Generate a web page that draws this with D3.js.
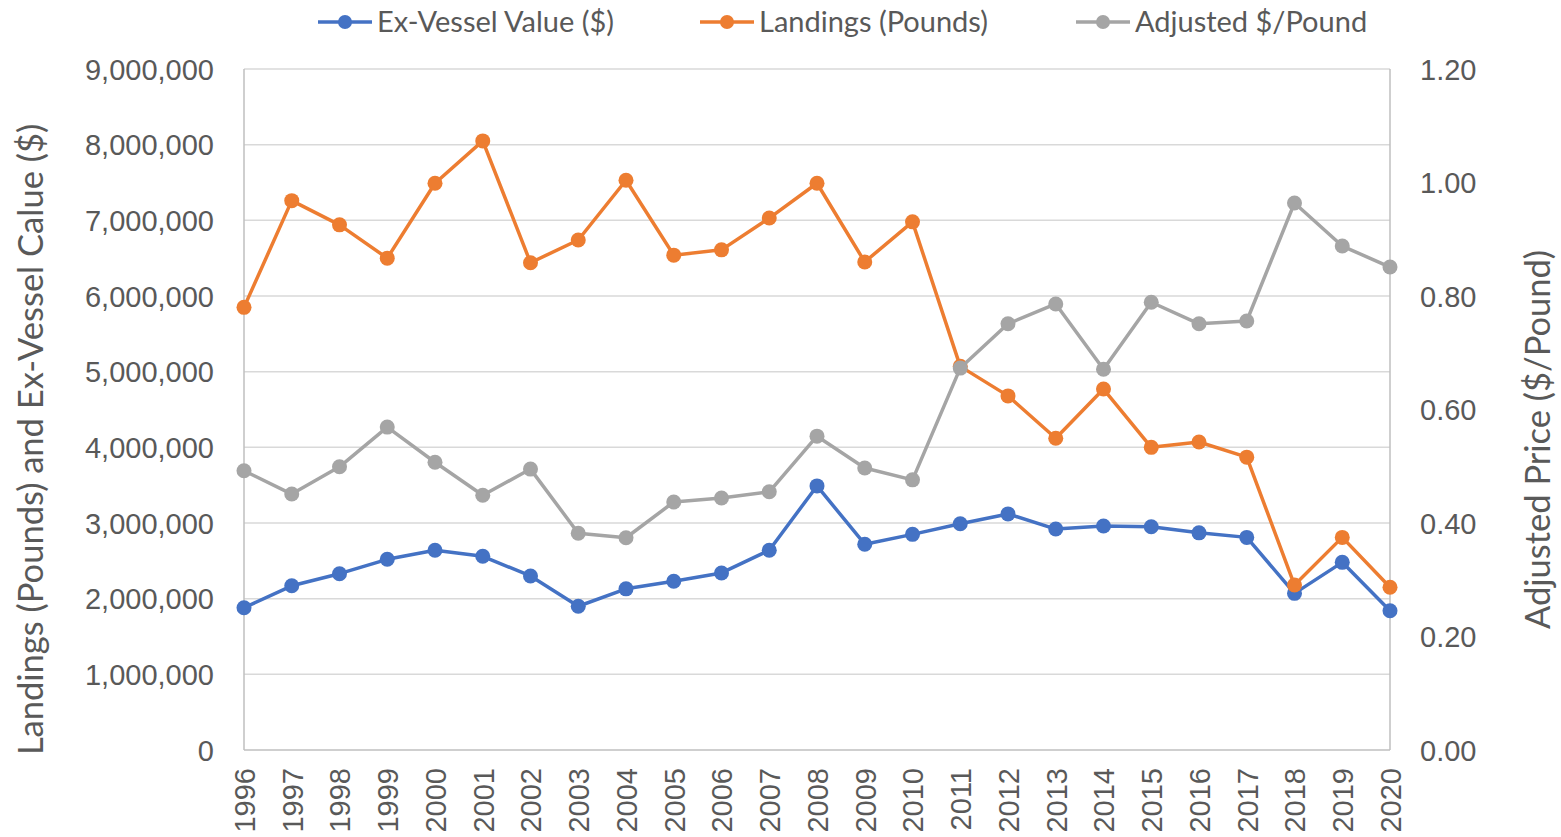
<!DOCTYPE html>
<html>
<head>
<meta charset="utf-8">
<script src="https://cdn.jsdelivr.net/npm/d3@7"></script>
<style>
  body { margin: 0; background: #fff; }
  svg { display: block; font-family: Lato, "Open Sans", sans-serif; }
</style>
</head>
<body>
<div id="chart"></div>
<script>
// data
const years = d3.range(1996, 2021)
const exVessel = [1880000, 2170000, 2330000, 2520000, 2640000, 2560000, 2300000, 1900000, 2130000, 2230000,
  2340000, 2640000, 3490000, 2720000, 2850000, 2990000, 3120000, 2920000, 2960000, 2950000,
  2870000, 2810000, 2070000, 2480000, 1840000]
const landings = [5850000, 7260000, 6940000, 6500000, 7490000, 8050000, 6440000, 6740000, 7530000, 6540000,
  6610000, 7030000, 7490000, 6450000, 6980000, 5070000, 4680000, 4120000, 4770000, 4000000,
  4070000, 3870000, 2180000, 2810000, 2150000]
const pricePerPound = [0.492, 0.451, 0.499, 0.569, 0.507, 0.449, 0.495, 0.382, 0.374, 0.437,
  0.444, 0.455, 0.553, 0.497, 0.476, 0.673, 0.751, 0.786, 0.671, 0.789,
  0.751, 0.756, 0.964, 0.888, 0.851]
const leftTicks = d3.range(0, 9000001, 1000000)
const rightTicks = [0, 0.2, 0.4, 0.6, 0.8, 1.0, 1.2]

const series = [
  {name: "Ex-Vessel Value ($)", values: exVessel, color: "#4472C4", axis: "left"},
  {name: "Landings (Pounds)", values: landings, color: "#ED7D31", axis: "left"},
  {name: "Adjusted $/Pound", values: pricePerPound, color: "#A5A5A5", axis: "right"}
]

const W = 1561, H = 837
const margin = {top: 69, right: 171, bottom: 87, left: 244}
const width = W - margin.left - margin.right
const height = H - margin.top - margin.bottom
const textColor = "#595959"
const tickFont = "29px"

const svg = d3.select("#chart").append("svg")
  .attr("width", W)
  .attr("height", H)

const g = svg.append("g")
  .attr("transform", "translate(" + margin.left + "," + margin.top + ")")

const x = d3.scalePoint().domain(years).range([0, width])
const yL = d3.scaleLinear().domain([0, 9000000]).range([height, 0])
const yR = d3.scaleLinear().domain([0, 1.2]).range([height, 0])

// gridlines
g.append("g")
  .selectAll("line")
  .data(leftTicks)
  .enter()
  .append("line")
    .attr("x1", 0)
    .attr("x2", width)
    .attr("y1", d => yL(d))
    .attr("y2", d => yL(d))
    .attr("stroke", d => d === 0 ? "#bfbfbf" : "#d9d9d9")
    .attr("stroke-width", 1.5)

// vertical axis lines on both sides
g.append("line").attr("x1", 0).attr("x2", 0).attr("y1", 0).attr("y2", height)
  .attr("stroke", "#bfbfbf").attr("stroke-width", 1.5)
g.append("line").attr("x1", width).attr("x2", width).attr("y1", 0).attr("y2", height)
  .attr("stroke", "#bfbfbf").attr("stroke-width", 1.5)

// left axis
const leftAxis = g.append("g")
  .call(d3.axisLeft(yL).tickValues(leftTicks).tickFormat(d3.format(",")).tickSize(0).tickPadding(30))
leftAxis.select(".domain").remove()
leftAxis.selectAll("text")
  .attr("fill", textColor)
  .style("font-size", tickFont)
  .attr("dy", "0.35em")

// right axis
const rightAxis = g.append("g")
  .attr("transform", "translate(" + width + ",0)")
  .call(d3.axisRight(yR).tickValues(rightTicks).tickFormat(d3.format(".2f")).tickSize(0).tickPadding(30))
rightAxis.select(".domain").remove()
rightAxis.selectAll("text")
  .attr("fill", textColor)
  .style("font-size", tickFont)
  .attr("dy", "0.35em")

// bottom axis, rotated year labels
const bottomAxis = g.append("g")
  .attr("transform", "translate(0," + height + ")")
  .call(d3.axisBottom(x).tickSize(0).tickPadding(0))
bottomAxis.select(".domain").remove()
bottomAxis.selectAll("text")
  .attr("fill", textColor)
  .style("font-size", tickFont)
  .attr("transform", "rotate(-90)")
  .attr("text-anchor", "end")
  .attr("x", -18)
  .attr("y", 0)
  .attr("dy", "0.36em")

// axis titles
svg.append("text")
  .attr("transform", "translate(43," + (margin.top + height / 2 + 30) + ") rotate(-90)")
  .attr("text-anchor", "middle")
  .attr("fill", textColor)
  .style("font-size", "34.5px")
  .text("Landings (Pounds) and Ex-Vessel Calue ($)")

svg.append("text")
  .attr("transform", "translate(1550," + (margin.top + height / 2 + 30) + ") rotate(-90)")
  .attr("text-anchor", "middle")
  .attr("fill", textColor)
  .style("font-size", "34.5px")
  .text("Adjusted Price ($/Pound)")

// lines + markers
series.forEach(function(s) {
  const yScale = s.axis === "left" ? yL : yR
  const line = d3.line()
    .x((d, i) => x(years[i]))
    .y(d => yScale(d))
  g.append("path")
    .datum(s.values)
    .attr("fill", "none")
    .attr("stroke", s.color)
    .attr("stroke-width", 3.5)
    .attr("stroke-linejoin", "round")
    .attr("d", line)
  g.append("g")
    .selectAll("circle")
    .data(s.values)
    .enter()
    .append("circle")
      .attr("cx", (d, i) => x(years[i]))
      .attr("cy", d => yScale(d))
      .attr("r", 7.5)
      .attr("fill", s.color)
})

// legend
const legendX = [318, 700, 1076]
const legend = svg.append("g")
  .selectAll("g")
  .data(series)
  .enter()
  .append("g")
    .attr("transform", (d, i) => "translate(" + legendX[i] + ",22)")
legend.append("line")
  .attr("x1", 0).attr("x2", 54)
  .attr("stroke", d => d.color)
  .attr("stroke-width", 3.5)
legend.append("circle")
  .attr("cx", 27)
  .attr("r", 7)
  .attr("fill", d => d.color)
legend.append("text")
  .attr("x", 59)
  .attr("dy", "0.35em")
  .attr("fill", textColor)
  .style("font-size", tickFont)
  .text(d => d.name)
</script>
</body>
</html>
